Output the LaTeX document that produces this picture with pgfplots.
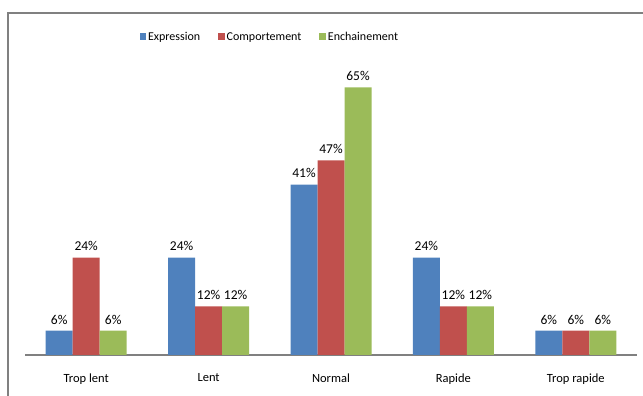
\documentclass[border=0pt]{standalone}
\usepackage{fontspec}
\setmainfont{Carlito}
\usepackage{pgfplots}
\pgfplotsset{compat=1.18}
\definecolor{cblue}{HTML}{4F81BD}
\definecolor{cred}{HTML}{C0504D}
\definecolor{cgreen}{HTML}{9BBB59}
\begin{document}
\begin{tikzpicture}[x=1pt,y=1pt,font=\fontsize{12}{14}\selectfont]
\begin{scope}
\clip (0,0) rectangle (643,396);
\draw[color=black!50, line width=2pt] (8,-20) rectangle (700,383);
\end{scope}
\begin{axis}[
  at={(25pt,41pt)}, anchor=south west,
  scale only axis, width=612pt, height=295pt,
  xmin=-0.5, xmax=4.5, ymin=0, ymax=71.3,
  ybar=0pt, bar width=27pt,
  axis x line=bottom, axis y line=none,
  x axis line style={-, color=black!50, line width=1.8pt},
  xtick=data, major tick length=0pt,
  xticklabels={Trop lent, Lent, Normal, Rapide, Trop rapide},
  xticklabel style={yshift=-15pt, font=\fontsize{12.5}{14}\selectfont},
  /pgf/number format/assume math mode=true,
  nodes near coords={\pgfmathprintnumber[fixed,precision=0]{\pgfplotspointmeta}\%},
  every node near coord/.append style={yshift=3pt, font=\fontsize{13.5}{15}\selectfont},
  legend style={at={(0.40,1.078)}, anchor=center, draw=none, fill=none,
    /tikz/every even column/.append style={column sep=16pt}},
  legend columns=3,
  legend image code/.code={\fill[#1] (0pt,-3pt) rectangle (6.5pt,3.5pt);},
  clip=false,
]
\addplot[fill=cblue, draw=none] coordinates {(0,5.88) (1,23.53) (2,41.18) (3,23.53) (4,5.88)};
\addplot[fill=cred, draw=none] coordinates {(0,23.53) (1,11.76) (2,47.06) (3,11.76) (4,5.88)};
\addplot[fill=cgreen, draw=none] coordinates {(0,5.88) (1,11.76) (2,64.71) (3,11.76) (4,5.88)};
\legend{Expression, Comportement, Enchainement}
\end{axis}
\pgfresetboundingbox
\path[use as bounding box] (0,0) rectangle (643,396);
\end{tikzpicture}
\end{document}
